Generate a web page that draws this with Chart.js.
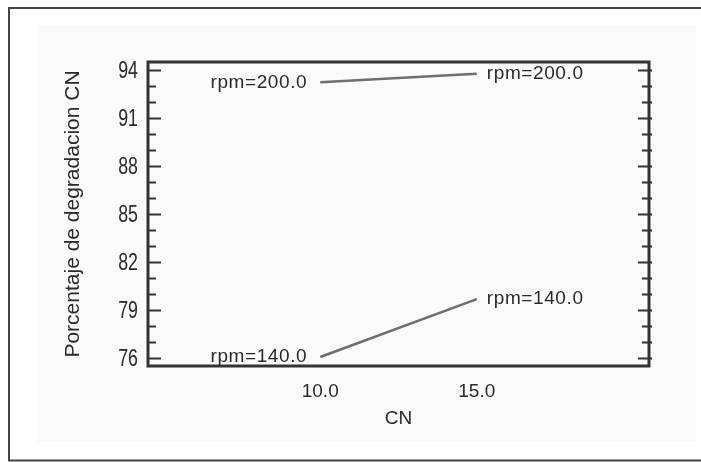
<!DOCTYPE html>
<html>
<head>
<meta charset="utf-8">
<script src="https://cdn.jsdelivr.net/npm/chart.js@4.4.1/dist/chart.umd.min.js"></script>
<style>
  html, body { margin: 0; padding: 0; background: #fff; }
</style>
</head>
<body>
<canvas id="interChart" width="701" height="462"></canvas>
<script>
// interaction plot: CN level vs % degradation, one line per rpm
const cnLevels = [10, 15]
const rpmLevels = [200, 140]
const rpm200 = [93.23, 93.77]
const rpm140 = [76.06, 79.68]
const xTicks = [10, 15]
const yTicks = [76, 79, 82, 85, 88, 91, 94]

const ink = '#333'
const textInk = '#2a2a2a'
const sans = "'Liberation Sans', Arial, sans-serif"

function points(ys) {
  return cnLevels.map((x, i) => ({ x: x, y: ys[i] }))
}

const framePlugin = {
  id: 'frame',
  beforeDraw(chart) {
    const ctx = chart.ctx
    ctx.save()
    ctx.fillStyle = '#fff'
    ctx.fillRect(0, 0, chart.width, chart.height)
    ctx.fillStyle = '#fafafa'
    ctx.fillRect(37, 25, 659, 417)
    // outer box
    ctx.strokeStyle = '#444'
    ctx.lineWidth = 2
    ctx.beginPath()
    ctx.moveTo(chart.width + 2, 8)
    ctx.lineTo(9, 8)
    ctx.lineTo(9, 460.5)
    ctx.lineTo(chart.width + 2, 460.5)
    ctx.stroke()
    ctx.restore()
  },
  afterDraw(chart) {
    const ctx = chart.ctx
    const a = chart.chartArea
    const y = chart.scales.y
    ctx.save()
    ctx.strokeStyle = ink
    ctx.lineWidth = 3
    ctx.strokeRect(a.left, a.top, a.right - a.left, a.bottom - a.top)
    ctx.lineWidth = 2
    ctx.beginPath()
    for (let v = yTicks[0]; v <= yTicks[yTicks.length - 1]; v++) {
      const py = Math.round(y.getPixelForValue(v)) + 0.5
      const major = yTicks.includes(v)
      ctx.moveTo(a.left, py)
      ctx.lineTo(a.left + (major ? 13 : 8), py)
      ctx.moveTo(a.right + 3, py)
      ctx.lineTo(a.right - (major ? 11 : 7), py)
    }
    ctx.stroke()

    // y tick labels, narrow and tall
    ctx.fillStyle = textInk
    ctx.font = '24px ' + sans
    ctx.textAlign = 'right'
    ctx.textBaseline = 'middle'
    y.ticks.forEach(t => {
      ctx.save()
      ctx.translate(a.left - 10, y.getPixelForValue(t.value) + 1)
      ctx.scale(0.74, 1)
      ctx.fillText(String(t.value), 0, 0)
      ctx.restore()
    })
    ctx.restore()
  }
}

const endLabels = {
  id: 'endLabels',
  afterDatasetsDraw(chart) {
    const ctx = chart.ctx
    ctx.save()
    ctx.font = '19px ' + sans
    ctx.fillStyle = textInk
    ctx.textBaseline = 'middle'
    if ('letterSpacing' in ctx) ctx.letterSpacing = '0.6px'
    chart.data.datasets.forEach((ds, i) => {
      const pts = chart.getDatasetMeta(i).data
      const first = pts[0]
      const last = pts[pts.length - 1]
      ctx.textAlign = 'right'
      ctx.fillText(ds.label, first.x - 13, first.y)
      ctx.textAlign = 'left'
      ctx.fillText(ds.label, last.x + 10, last.y)
    })
    ctx.restore()
  }
}

const ctx = document.getElementById('interChart').getContext('2d')
const chart = new Chart(ctx, {
  type: 'line',
  data: {
    datasets: [
      {
        label: 'rpm=' + rpmLevels[0].toFixed(1),
        data: points(rpm200)
      },
      {
        label: 'rpm=' + rpmLevels[1].toFixed(1),
        data: points(rpm140)
      }
    ].map(d => Object.assign(d, {
      borderColor: '#6e6e6e',
      borderWidth: 2.5,
      pointRadius: 0,
      tension: 0,
      fill: false
    }))
  },
  options: {
    responsive: false,
    animation: false,
    layout: {
      padding: { top: 62, right: 52, left: 0, bottom: 0 }
    },
    scales: {
      x: {
        type: 'linear',
        min: 4.5,
        max: 20.5,
        afterBuildTicks: s => { s.ticks = xTicks.map(v => ({ value: v })) },
        afterFit: s => { s.height = 96 },
        grid: { display: false, drawTicks: false },
        border: { display: false },
        ticks: {
          padding: 14,
          color: textInk,
          font: { family: sans, size: 19 },
          callback: v => Number(v).toFixed(1)
        },
        title: {
          display: true,
          text: 'CN',
          color: textInk,
          font: { family: sans, size: 19 },
          padding: { top: 0, bottom: 32 }
        }
      },
      y: {
        min: 75.5,
        max: 94.5,
        afterBuildTicks: s => { s.ticks = yTicks.map(v => ({ value: v })) },
        afterFit: s => { s.width = 148 },
        grid: { display: false, drawTicks: false },
        border: { display: false },
        ticks: { display: false },
        title: {
          display: true,
          text: 'Porcentaje de degradacion CN',
          color: textInk,
          font: { family: sans, size: 21 },
          padding: { top: 61, bottom: 0 }
        }
      }
    },
    plugins: {
      legend: { display: false },
      tooltip: { enabled: false }
    }
  },
  plugins: [framePlugin, endLabels]
})
</script>
</body>
</html>
